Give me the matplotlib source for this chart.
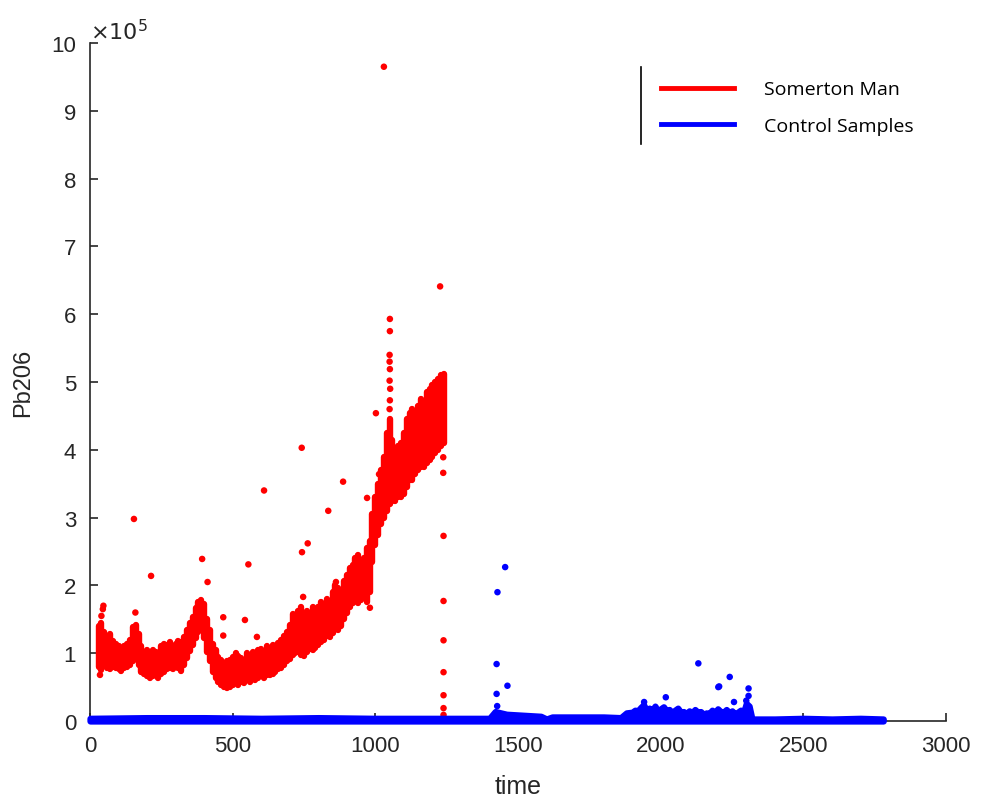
import matplotlib
matplotlib.use("Agg")
import matplotlib.pyplot as plt
from matplotlib.lines import Line2D

# ---- data (values in units of 1e5) ----
red_t = [30, 40, 50, 60, 70, 80, 90, 100, 110, 120, 130, 140, 150, 160, 170, 180, 190, 200,
         210, 220, 230, 240, 250, 260, 270, 280, 290, 300, 310, 320, 330, 340, 350, 360, 370,
         380, 390, 400, 410, 420, 430, 440, 450, 460, 470, 480, 490, 500, 510, 520, 530, 540,
         550, 560, 570, 580, 590, 600, 610, 620, 630, 640, 650, 660, 670, 680, 690, 700, 710,
         720, 730, 740, 750, 760, 770, 780, 790, 800, 810, 820, 830, 840, 850, 860, 870, 880,
         890, 900, 910, 920, 930, 940, 950, 960, 970, 980, 990, 1000, 1010, 1020, 1030, 1040,
         1050, 1060, 1070, 1080, 1090, 1100, 1110, 1120, 1130, 1140, 1150, 1160, 1170, 1180,
         1190, 1200, 1210, 1220, 1230, 1240]
red_low = [0.80, 0.75, 0.82, 0.78, 0.76, 0.80, 0.78, 0.76, 0.74, 0.78, 0.80, 0.83, 0.88, 0.92,
           0.82, 0.73, 0.70, 0.66, 0.64, 0.66, 0.68, 0.64, 0.70, 0.73, 0.76, 0.78, 0.76, 0.80,
           0.78, 0.74, 0.83, 0.93, 1.03, 1.12, 1.22, 1.32, 1.38, 1.22, 1.02, 0.88, 0.73, 0.63,
           0.57, 0.53, 0.50, 0.48, 0.50, 0.53, 0.57, 0.53, 0.58, 0.56, 0.60, 0.58, 0.62, 0.60,
           0.63, 0.66, 0.64, 0.68, 0.68, 0.70, 0.73, 0.77, 0.78, 0.82, 0.88, 0.92, 0.98, 1.00,
           1.02, 0.98, 0.96, 1.02, 1.06, 1.05, 1.08, 1.12, 1.16, 1.20, 1.25, 1.24, 1.30, 1.36,
           1.34, 1.40, 1.50, 1.60, 1.68, 1.74, 1.78, 1.74, 1.78, 1.82, 1.76, 1.90, 2.35, 2.60,
           2.75, 2.90, 3.00, 3.10, 3.20, 3.25, 3.25, 3.30, 3.30, 3.35, 3.45, 3.55, 3.55, 3.65,
           3.70, 3.75, 3.75, 3.80, 3.85, 3.90, 3.95, 4.00, 4.05, 4.10]
red_high = [1.40, 1.45, 1.32, 1.24, 1.28, 1.18, 1.14, 1.10, 1.05, 1.10, 1.14, 1.20, 1.38, 1.42,
            1.28, 1.10, 1.02, 1.05, 1.00, 1.05, 1.02, 1.00, 1.10, 1.14, 1.12, 1.16, 1.10, 1.14,
            1.18, 1.16, 1.24, 1.34, 1.44, 1.54, 1.66, 1.75, 1.78, 1.72, 1.50, 1.34, 1.14, 1.04,
            0.95, 0.90, 0.86, 0.88, 0.90, 0.95, 1.00, 0.96, 0.93, 0.90, 1.00, 0.95, 1.02, 0.97,
            1.05, 1.06, 1.02, 1.10, 1.06, 1.12, 1.10, 1.15, 1.20, 1.26, 1.32, 1.42, 1.58, 1.52,
            1.62, 1.68, 1.58, 1.62, 1.58, 1.68, 1.62, 1.68, 1.76, 1.72, 1.80, 1.76, 1.90, 2.00,
            1.96, 1.92, 2.06, 2.16, 2.26, 2.30, 2.40, 2.45, 2.36, 2.40, 2.55, 2.65, 3.05, 3.30,
            3.50, 3.70, 3.90, 4.25, 4.45, 4.15, 4.00, 4.05, 4.10, 4.25, 4.45, 4.55, 4.60, 4.55,
            4.65, 4.75, 4.70, 4.85, 4.90, 4.95, 5.00, 5.05, 5.10, 5.12]

red_out_t = [35, 40, 45, 47, 159, 154, 214, 393, 412, 467, 467, 543, 555, 585, 610, 742, 743,
             763, 747, 835, 862, 887, 971, 981, 1002, 1013, 1030, 1051, 1051, 1050, 1050, 1051,
             1050, 1052, 1051, 1050, 1227, 1238, 1238, 1239, 1239, 1239, 1239, 1239, 1239, 1239]
red_out_v = [0.68, 1.55, 1.65, 1.70, 1.60, 2.98, 2.14, 2.39, 2.05, 1.53, 1.26, 1.49, 2.31, 1.24,
             3.40, 4.03, 2.49, 2.62, 1.83, 3.10, 2.05, 3.53, 3.29, 1.67, 4.54, 3.64, 9.65, 5.93,
             5.75, 5.40, 5.30, 5.19, 5.02, 4.90, 4.73, 4.60, 6.41, 3.89, 3.66, 2.73, 1.77, 1.19,
             0.72, 0.38, 0.19, 0.09]

blue_t = [0, 200, 400, 600, 800, 1000, 1200, 1400, 1420, 1460, 1500, 1540, 1580, 1600, 1620,
          1700, 1800, 1860, 1880, 1900, 1910, 1920, 1930, 1940, 1950, 1960, 1970, 1980, 1990,
          2000, 2010, 2020, 2030, 2040, 2050, 2060, 2070, 2080, 2090, 2100, 2110, 2120, 2130,
          2140, 2150, 2160, 2170, 2180, 2190, 2200, 2210, 2220, 2230, 2240, 2250, 2260, 2270,
          2280, 2290, 2300, 2310, 2320, 2400, 2500, 2600, 2700, 2780]
blue_high = [0.04, 0.05, 0.05, 0.04, 0.05, 0.04, 0.04, 0.04, 0.14, 0.10, 0.09, 0.08, 0.07,
             0.03, 0.06, 0.06, 0.06, 0.05, 0.12, 0.13, 0.16, 0.15, 0.20, 0.24, 0.16, 0.19,
             0.15, 0.22, 0.14, 0.18, 0.21, 0.15, 0.17, 0.12, 0.16, 0.19, 0.13, 0.14, 0.11,
             0.15, 0.12, 0.17, 0.13, 0.14, 0.10, 0.12, 0.11, 0.16, 0.12, 0.18, 0.14, 0.13,
             0.17, 0.12, 0.15, 0.10, 0.13, 0.16, 0.12, 0.26, 0.22, 0.03, 0.03, 0.04, 0.03,
             0.04, 0.03]
blue_low = [0.0 for _ in blue_high]

blue_out_t = [1425, 1428, 1455, 1463, 1425, 1427, 1942, 2018, 2132, 2202, 2205, 2242, 2257,
              2308, 2308, 2300]
blue_out_v = [0.84, 1.90, 2.27, 0.52, 0.40, 0.22, 0.28, 0.35, 0.85, 0.50, 0.51, 0.65, 0.28,
              0.48, 0.37, 0.30]

x_ticks = [0, 500, 1000, 1500, 2000, 2500, 3000]
y_ticks = [0, 1, 2, 3, 4, 5, 6, 7, 8, 9, 10]
SCALE = 1e5

# ---- plotting ----
plt.rcParams['font.family'] = ['Liberation Sans', 'DejaVu Sans']
fig = plt.figure(figsize=(9.81, 8.03), dpi=100)
ax = fig.add_axes([90 / 981, 1 - 722 / 803, (946 - 90) / 981, (722 - 44) / 803])

RED = '#ff0000'
BLUE = '#0000ff'

ax.fill_between(blue_t, [v * SCALE for v in blue_low], [v * SCALE for v in blue_high],
                color=BLUE, edgecolor=BLUE, linewidth=4.5, joinstyle='round', zorder=4,
                clip_on=False)
ax.scatter(blue_out_t, [v * SCALE for v in blue_out_v], s=22, color=BLUE, edgecolors='none',
           zorder=4)

ax.vlines(red_t, [v * SCALE for v in red_low], [v * SCALE for v in red_high],
          color=RED, linewidth=4.6, capstyle='round', zorder=3)
ax.scatter(red_out_t, [v * SCALE for v in red_out_v], s=22, color=RED, edgecolors='none',
           zorder=3)

ax.set_xlim(0, 3000)
ax.set_ylim(0, 10 * SCALE)
ax.set_xticks(x_ticks)
ax.set_yticks([v * SCALE for v in y_ticks])
ax.set_yticklabels([str(v) for v in y_ticks])

DARK = '#262626'
for side in ['top', 'right']:
    ax.spines[side].set_visible(False)
for side in ['left', 'bottom']:
    ax.spines[side].set_color(DARK)
    ax.spines[side].set_linewidth(1.2)
ax.tick_params(direction='in', length=6, width=1.2, colors=DARK, labelsize=16, pad=10)
ax.text(0.0, 1.0, r'$\times10^{5}$', transform=ax.transAxes, fontsize=16, color=DARK,
        ha='left', va='bottom', fontfamily='DejaVu Sans')

ax.set_xlabel('time', fontsize=18, color=DARK, labelpad=13)
ax.set_ylabel('Pb206', fontsize=17, color=DARK, labelpad=12)

handles = [Line2D([0], [0], color=RED, lw=3.5), Line2D([0], [0], color=BLUE, lw=3.5)]
leg = ax.legend(handles, ['Somerton Man', 'Control Samples'], loc='upper left',
                bbox_to_anchor=((643 - 90) / 856, 1 - (64 - 44) / 678), frameon=False,
                handlelength=3.8, handletextpad=1.5, labelspacing=0.95,
                prop={'family': 'Open Sans', 'size': 14})
fig.add_artist(Line2D([641 / 981, 641 / 981], [1 - 68 / 803, 1 - 145 / 803], color='black',
                      lw=1.2, transform=fig.transFigure))

fig.savefig('out.png', dpi=100)
